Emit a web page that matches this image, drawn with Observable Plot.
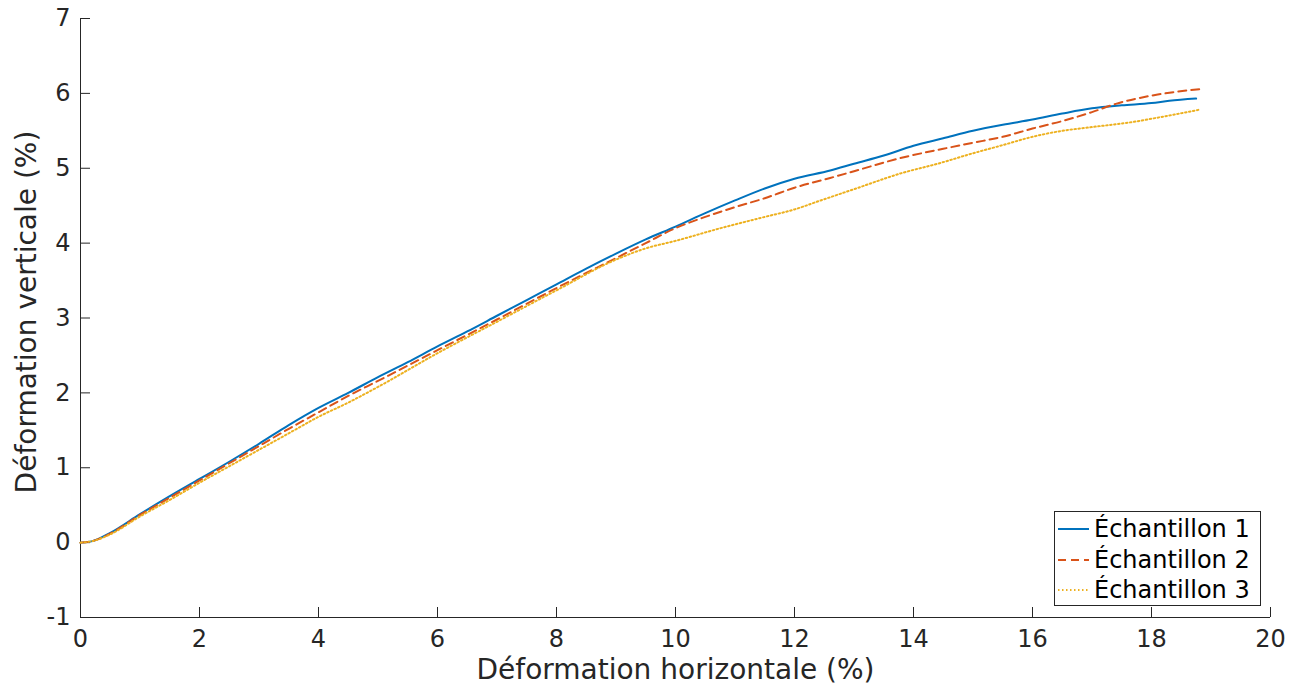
<!DOCTYPE html>
<html>
<head>
<meta charset="utf-8">
<script src="https://cdn.jsdelivr.net/npm/d3@7"></script>
<script src="https://cdn.jsdelivr.net/npm/@observablehq/plot@0.6"></script>
<style>
  html, body { margin: 0; padding: 0; background: #fff; }
  #wrap { position: relative; width: 1300px; height: 691px; font-family: "DejaVu Sans", sans-serif; }
  #legend { position: absolute; left: 1054px; top: 511px; width: 207px; height: 95px;
            border: 1px solid #262626; background: #fff; box-sizing: border-box; }
  .row { position: absolute; left: 0; height: 30px; display: flex; align-items: center; }
  .row span { font-size: 24px; color: #000; margin-left: 3px; white-space: nowrap; }
</style>
</head>
<body>
<div id="wrap"></div>
<script>
// ---- data ----
const seriesNames = ["Échantillon 1", "Échantillon 2", "Échantillon 3"];
const seriesColors = ["#0072BD", "#D95319", "#EDB120"];
const seriesDash = ["none", "8,5", "1.5,2.5"];

const s1x = [0, 0.2, 0.5, 1, 1.5, 2, 2.5, 3, 3.5, 4, 4.5, 5, 5.5, 6, 6.5, 7, 7.5, 8, 8.5, 9, 9.5, 10, 10.5, 11, 11.5, 12, 12.6, 13, 13.5, 14, 14.5, 15, 15.5, 16, 16.5, 17, 17.5, 18, 18.3, 18.75];
const s1y = [0, 0.02, 0.13, 0.38, 0.62, 0.85, 1.08, 1.32, 1.57, 1.8, 2.0, 2.21, 2.41, 2.62, 2.82, 3.03, 3.24, 3.45, 3.66, 3.86, 4.05, 4.22, 4.4, 4.57, 4.73, 4.86, 4.97, 5.06, 5.17, 5.3, 5.4, 5.5, 5.58, 5.65, 5.73, 5.8, 5.84, 5.87, 5.9, 5.93];

const s2x = [0, 0.2, 0.5, 1, 1.5, 2, 2.5, 3, 3.5, 4, 4.5, 5, 6, 7, 8, 9, 9.5, 10, 10.5, 11, 11.5, 12, 12.6, 13, 13.8, 14.5, 15, 15.5, 16, 16.5, 17, 17.4, 18, 18.4, 18.85];
const s2y = [0, 0.02, 0.12, 0.37, 0.6, 0.83, 1.06, 1.29, 1.52, 1.74, 1.96, 2.16, 2.57, 2.98, 3.4, 3.8, 4.0, 4.2, 4.35, 4.48, 4.6, 4.74, 4.87, 4.96, 5.14, 5.26, 5.34, 5.42, 5.53, 5.63, 5.75, 5.86, 5.97, 6.02, 6.06];

const s3x = [0, 0.2, 0.5, 1, 1.5, 2, 2.5, 3, 3.5, 4, 4.5, 5, 6, 7, 8, 9, 9.5, 10, 10.76, 11.5, 12, 12.44, 13, 13.78, 14.45, 15, 15.46, 16, 16.5, 17, 17.7, 18.2, 18.79];
const s3y = [0, 0.02, 0.11, 0.35, 0.57, 0.8, 1.02, 1.24, 1.46, 1.68, 1.87, 2.08, 2.53, 2.95, 3.37, 3.78, 3.93, 4.03, 4.2, 4.35, 4.45, 4.57, 4.72, 4.93, 5.07, 5.2, 5.3, 5.42, 5.5, 5.55, 5.62, 5.69, 5.78];

const xTicks = [0, 2, 4, 6, 8, 10, 12, 14, 16, 18, 20];
const yTicks = [-1, 0, 1, 2, 3, 4, 5, 6, 7];
const xLabel = "Déformation horizontale (%)";
const yLabel = "Déformation verticale (%)";

// ---- build table ----
const allX = [s1x, s2x, s3x], allY = [s1y, s2y, s3y];
const rows = [];
allX.forEach((xs, i) => xs.forEach((x, j) => rows.push({series: seriesNames[i], x, y: allY[i][j]})));

const W = 1300, H = 691, mL = 80, mR = 30, mT = 18, mB = 74;
const fw = W - mL - mR, fh = H - mT - mB;
const axisColor = "#262626";
const fmt = d => String(d);

const marks = [
  Plot.axisX(xTicks, {tickSize: 0, tickPadding: 12, fontSize: 24, color: axisColor, label: null, tickFormat: fmt}),
  Plot.axisY(yTicks, {tickSize: 0, tickPadding: 10, fontSize: 24, color: axisColor, label: null, tickFormat: fmt}),
  Plot.tickX(xTicks, {x: d => d, insetTop: fh - 10, stroke: axisColor, strokeWidth: 1}),
  Plot.tickY(yTicks, {y: d => d, insetRight: fw - 10, stroke: axisColor, strokeWidth: 1}),
  Plot.ruleX([0], {stroke: axisColor, strokeWidth: 1}),
  Plot.ruleY([-1], {stroke: axisColor, strokeWidth: 1}),
];
seriesNames.forEach((name, i) => {
  marks.push(Plot.line(rows.filter(r => r.series === name), {
    x: "x", y: "y", stroke: seriesColors[i], strokeWidth: 2,
    strokeDasharray: seriesDash[i] === "none" ? undefined : seriesDash[i],
    curve: "monotone-x"
  }));
});
marks.push(Plot.text([xLabel], {text: d => d, frameAnchor: "bottom", textAnchor: "middle", dy: 61, fontSize: 28, fill: axisColor}));
marks.push(Plot.text([yLabel], {text: d => d, frameAnchor: "left", textAnchor: "middle", rotate: -90, dx: -53, dy: -6, fontSize: 28, fill: axisColor}));

const chart = Plot.plot({
  width: W, height: H,
  marginLeft: mL, marginRight: mR, marginTop: mT, marginBottom: mB,
  style: {fontFamily: "DejaVu Sans", fontSize: "24px", background: "#fff", overflow: "visible"},
  x: {domain: [0, 20]},
  y: {domain: [-1, 7]},
  marks
});
const wrap = document.getElementById("wrap");
wrap.appendChild(chart);

// ---- legend ----
const legend = document.createElement("div");
legend.id = "legend";
seriesNames.forEach((name, i) => {
  const row = document.createElement("div");
  row.className = "row";
  row.style.top = (2 + i * 30.5) + "px";
  row.innerHTML = `<svg width="36" height="10"><line x1="3" x2="34" y1="5" y2="5" stroke="${seriesColors[i]}" stroke-width="2" ${seriesDash[i] === "none" ? "" : `stroke-dasharray="${seriesDash[i]}"`}/></svg><span>${name}</span>`;
  legend.appendChild(row);
});
wrap.appendChild(legend);
</script>
</body>
</html>
